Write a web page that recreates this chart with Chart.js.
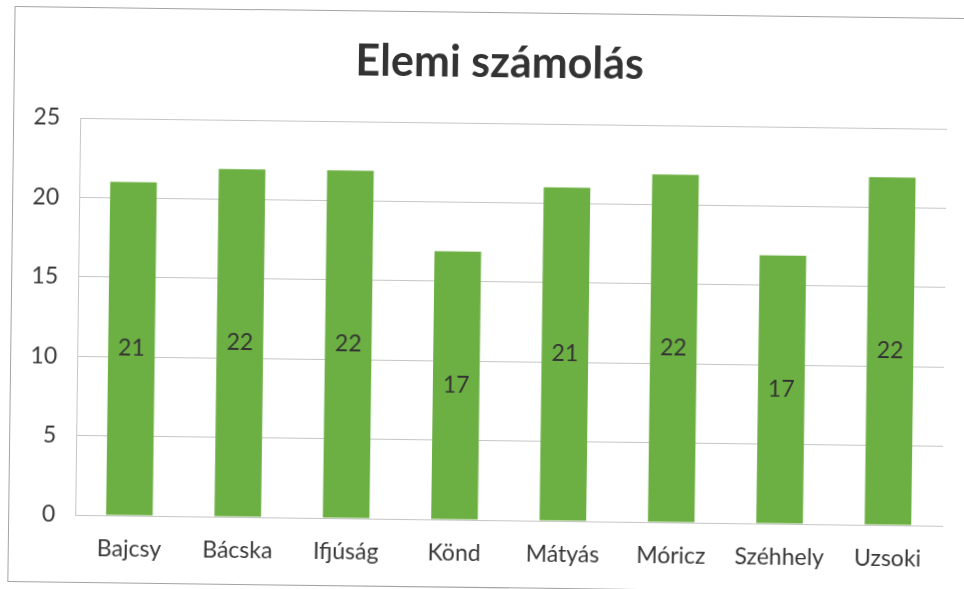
<!DOCTYPE html>
<html>
<head>
<meta charset="utf-8">
<title>Elemi számolás</title>
<script src="https://cdn.jsdelivr.net/npm/chart.js@4"></script>
<style>
  html, body { margin: 0; padding: 0; background: #fff; overflow: hidden; }
  #sheet {
    position: relative;
    width: 964px;
    height: 589px;
    transform: rotate(0.72deg);
    transform-origin: 482px 294px;
  }
  #frame {
    position: absolute;
    left: 11px;
    top: 12px;
    width: 980px;
    height: 574px;
    border: 1px solid #a4a4a4;
  }
  #chart { position: absolute; left: 0; top: 0; }
</style>
</head>
<body>
<div id="sheet">
  <div id="frame"></div>
  <canvas id="chart" width="964" height="589"></canvas>
</div>
<script>
const chartTitle = 'Elemi számolás';
const categories = ['Bajcsy', 'Bácska', 'Ifjúság', 'Könd', 'Mátyás', 'Móricz', 'Széhhely', 'Uzsoki'];
const scores = [21.0, 21.9, 21.9, 16.9, 21.0, 21.9, 16.9, 21.9];
const yTicks = [0, 5, 10, 15, 20, 25];

const textColor = '#383838';
const gridColor = '#c6c6c6';

// heading sits halfway between the canvas centre and the plot centre
const heading = {
  id: 'heading',
  afterDraw(chart, args, opts) {
    const ctx = chart.ctx;
    const area = chart.chartArea;
    const x = (chart.width / 2 + (area.left + area.right) / 2) / 2;
    ctx.save();
    ctx.font = 'bold 43px Lato';
    ctx.fillStyle = '#333333';
    ctx.textAlign = 'center';
    ctx.textBaseline = 'middle';
    ctx.fillText(opts.text, x, 63);
    ctx.restore();
  }
};

// writes the rounded value in the middle of each bar
const barLabels = {
  id: 'barLabels',
  afterDatasetsDraw(chart) {
    const ctx = chart.ctx;
    const meta = chart.getDatasetMeta(0);
    ctx.save();
    ctx.font = '23px Lato';
    ctx.fillStyle = '#333333';
    ctx.textAlign = 'center';
    ctx.textBaseline = 'middle';
    meta.data.forEach((bar, i) => {
      const v = chart.data.datasets[0].data[i];
      ctx.fillText(String(Math.round(v)), bar.x, (bar.y + bar.base) / 2);
    });
    ctx.restore();
  }
};

new Chart(document.getElementById('chart'), {
  type: 'bar',
  data: {
    labels: categories,
    datasets: [{
      data: scores,
      backgroundColor: '#6cb043',
      barPercentage: 0.43,
      categoryPercentage: 1
    }]
  },
  options: {
    responsive: false,
    animation: false,
    layout: { padding: { top: 123, right: 19, bottom: 0, left: 0 } },
    plugins: {
      legend: { display: false },
      tooltip: { enabled: false },
      title: { display: false },
      heading: { text: chartTitle }
    },
    scales: {
      x: {
        grid: { drawOnChartArea: false, drawTicks: false },
        border: { display: true, color: gridColor },
        ticks: {
          color: textColor,
          font: { family: 'Lato', size: 23 },
          padding: 20
        },
        afterFit(scale) { scale.height = 69; }
      },
      y: {
        min: yTicks[0],
        max: yTicks[yTicks.length - 1],
        afterBuildTicks(scale) { scale.ticks = yTicks.map(v => ({ value: v })); },
        grid: { color: gridColor, drawTicks: false },
        border: { display: true, color: gridColor },
        ticks: {
          color: textColor,
          font: { family: 'Lato', size: 23 },
          padding: 20
        },
        afterFit(scale) { scale.width = 78; }
      }
    }
  },
  plugins: [heading, barLabels]
});
</script>
</body>
</html>
